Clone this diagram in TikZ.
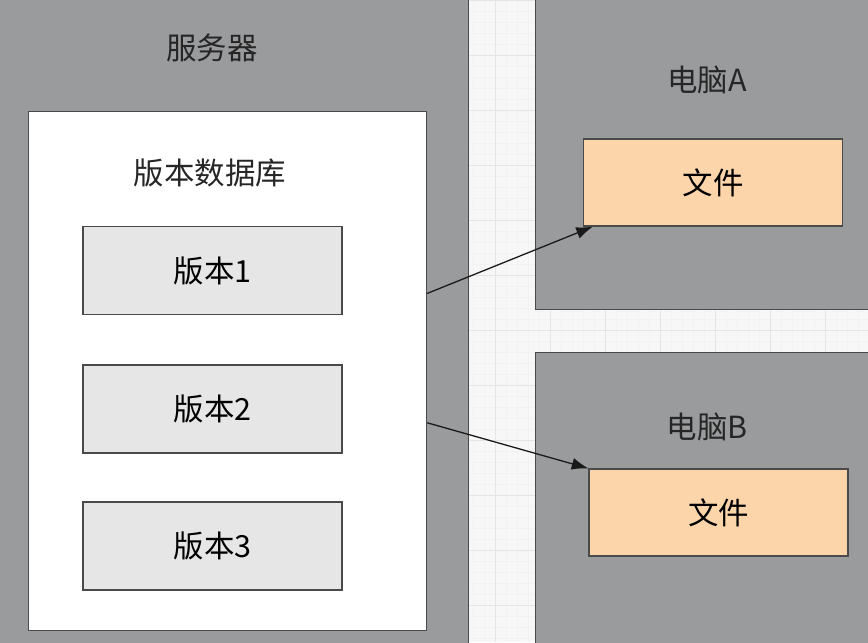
\documentclass[tikz,border=0pt]{standalone}
\usepackage{fontspec}
\setmainfont{Noto Sans CJK SC}
\usepackage{tikz}
\usetikzlibrary{arrows.meta,positioning}

\definecolor{panelgray}{HTML}{9A9B9D}
\definecolor{boxgray}{HTML}{E6E6E6}
\definecolor{filepeach}{HTML}{FCD6AA}
\definecolor{edgegray}{HTML}{4A4A4A}

\begin{document}
\begin{tikzpicture}[x=0.03cm, y=-0.03cm,
    font=\fontsize{26}{30}\selectfont,
    panel/.style={draw=edgegray, line width=1.2pt, fill=panelgray, anchor=north west, inner sep=0pt},
    dbbox/.style={draw=edgegray, line width=1pt, fill=white, anchor=north west, inner sep=0pt,
                  minimum width=11.94cm, minimum height=15.57cm},
    verbox/.style={draw=edgegray, line width=1pt, fill=boxgray, minimum width=7.77cm, minimum height=2.64cm},
    filebox/.style={draw=edgegray, line width=1pt, fill=filepeach, minimum width=7.77cm, minimum height=2.61cm},
    lab/.style={text=black!85},
    link/.style={draw=black!90, line width=1.1pt, -{Latex[length=5mm,width=3.6mm]}}]

  \useasboundingbox (0,0) rectangle (868,642);
  \clip (0,0) rectangle (868,642);

  \fill[white!97!black] (0,0) rectangle (868,642);
  \draw[black!5, line width=0.3pt, step=0.33cm] (0,0) grid (868,642);
  \draw[black!10, line width=0.4pt, step=1.65cm] (0,0) grid (868,642);

  \node[panel, minimum width=14.34cm, minimum height=19.8cm] (srv) at (-10,-10) {};
  \node[panel, minimum width=10.5cm, minimum height=9.57cm] (pcA) at (535,-10) {};
  \node[panel, minimum width=10.5cm, minimum height=9.3cm] (pcB) at (535,352) {};

  \node[lab] (srvlab) at (212,48) {服务器};
  \node[lab] (pcAlab) at (707,80) {电脑A};
  \node[lab] (pcBlab) at (707,427) {电脑B};

  \node[dbbox] (db) at (28,111) {};
  \node[lab] (dblab) at (210,173) {版本数据库};

  \node[verbox] (v1) at (212.5,270.5) {版本1};
  \node[verbox] (v2) at (212.5,409) {版本2};
  \node[verbox] (v3) at (212.5,546) {版本3};

  \node[filebox] (fileA) at (713,182.5) {文件};
  \node[filebox] (fileB) at (718.5,512.5) {文件};

  \draw[link] ([yshift=2.33cm]db.east) -- ([xshift=0.3cm]fileA.south west);
  \draw[link] ([yshift=-1.55cm]db.east) -- (fileB.north west);
\end{tikzpicture}
\end{document}
